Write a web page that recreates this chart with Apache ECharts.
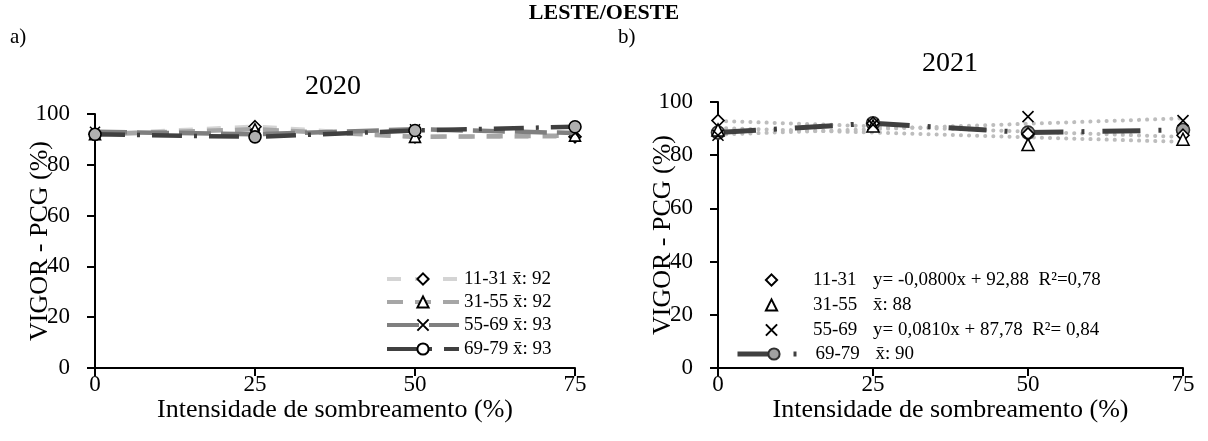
<!DOCTYPE html>
<html>
<head>
<meta charset="utf-8">
<script src="https://cdn.jsdelivr.net/npm/echarts@6/dist/echarts.min.js"></script>
<style>
  html, body { margin: 0; padding: 0; background: #fff; }
  #chart { width: 1208px; height: 441px; }
</style>
</head>
<body>
<div id="chart"></div>
<script>
// Shading intensity levels (%) on the x axis
const shading = [0, 25, 50, 75];
const yTicks = [0, 20, 40, 60, 80, 100];
const groups = ['11-31', '31-55', '55-69', '69-79'];

// Seed vigor (%) per group, 2020
const vigor2020_11_31 = [92, 95, 91, 91];
const vigor2020_31_55 = [92, 94, 91, 91.5];
const vigor2020_55_69 = [93, 92, 94, 92.5];
const vigor2020_69_79 = [92, 91, 93.5, 95];
const means2020 = ['92', '92', '93', '93'];

// Seed vigor (%) per group, 2021
const vigor2021_11_31 = [93, 92, 88, 87.5];
const vigor2021_31_55 = [89.5, 91, 84, 86];
const vigor2021_55_69 = [87.5, 91.5, 94.5, 93];
const vigor2021_69_79 = [88.5, 92, 88.5, 89.5];

// Fitted linear models for 2021: [slope, intercept]
const fit2021_11_31 = [-0.0800, 92.88];
const fit2021_55_69 = [0.0810, 87.78];
const notes2021 = ['y= -0,0800x + 92,88  R\u00b2=0,78', 'x\u0304: 88', 'y= 0,0810x + 87,78  R\u00b2= 0,84', 'x\u0304: 90'];

const FONT = '"Liberation Serif", "Times New Roman", serif';
const XSYM = 'path://M0,0L10,10M10,0L0,10';

const pts = vals => shading.map((x, i) => [x, vals[i]]);
const linePts = (a, b) => shading.map(x => [x, a * x + b]);
function linReg(vals) {
  const n = shading.length;
  const mx = shading.reduce((s, v) => s + v, 0) / n;
  const my = vals.reduce((s, v) => s + v, 0) / n;
  let sxy = 0, sxx = 0;
  shading.forEach((x, i) => { sxy += (x - mx) * (vals[i] - my); sxx += (x - mx) * (x - mx); });
  const a = sxy / sxx;
  return [a, my - a * mx];
}

function xAxis(gridIndex) {
  return {
    type: 'value', gridIndex, min: 0, max: 75, interval: 25,
    name: 'Intensidade de sombreamento (%)', nameLocation: 'middle', nameGap: 29, nameMoveOverlap: false,
    nameTextStyle: { fontFamily: FONT, fontSize: 26, color: '#000' },
    axisLine: { show: true, onZero: false, lineStyle: { color: '#000', width: 2 } },
    axisTick: { show: true, length: 8, lineStyle: { color: '#000', width: 2 } },
    axisLabel: { margin: 5, fontFamily: FONT, fontSize: 23, color: '#000' },
    splitLine: { show: false }
  };
}
function yAxis(gridIndex) {
  return {
    type: 'value', gridIndex, min: yTicks[0], max: yTicks[yTicks.length - 1], interval: yTicks[1] - yTicks[0],
    name: 'VIGOR - PCG (%)', nameLocation: 'middle', nameGap: 42, nameMoveOverlap: false,
    nameTextStyle: { fontFamily: FONT, fontSize: 26, color: '#000' },
    axisLine: { show: true, onZero: false, lineStyle: { color: '#000', width: 2 } },
    axisTick: { show: true, length: 8, lineStyle: { color: '#000', width: 2 } },
    axisLabel: { margin: 25, fontFamily: FONT, fontSize: 23, color: '#000' },
    splitLine: { show: false }
  };
}

const markerStyle = fill => ({ color: fill, borderColor: '#000', borderWidth: 1.6 });

// 2020 panel: all four groups joined by dashed lines
const style2020 = [
  { color: '#d4d4d4', dash: [14, 14], symbol: 'diamond', size: 12, fill: '#fff' },
  { color: '#a6a6a6', dash: [16, 12], symbol: 'triangle', size: 11, fill: '#fff' },
  { color: '#7f7f7f', dash: [32, 10], symbol: XSYM, size: 10, fill: 'none' },
  { color: '#404040', dash: [30, 12, 3, 12], symbol: 'circle', size: 12, fill: '#b0b0b0' }
];
const data2020 = [vigor2020_11_31, vigor2020_31_55, vigor2020_55_69, vigor2020_69_79];

const series = [];
data2020.forEach((vals, i) => {
  const s = style2020[i];
  series.push({
    name: '2020 ' + groups[i], type: 'line', xAxisIndex: 0, yAxisIndex: 0,
    data: pts(vals), symbol: s.symbol, symbolSize: s.size, showSymbol: true,
    lineStyle: { color: s.color, width: 4.5, type: s.dash, cap: 'butt' },
    itemStyle: markerStyle(s.fill), z: 3 + i
  });
});

// 2021 panel: trend lines (dotted), then the markers
const fit31_55 = linReg(vigor2021_31_55);
[fit2021_11_31, fit31_55, fit2021_55_69].forEach((f, i) => {
  series.push({
    name: 'trend ' + i, type: 'line', xAxisIndex: 1, yAxisIndex: 1,
    data: linePts(f[0], f[1]), showSymbol: false, symbol: 'none',
    lineStyle: { color: '#bdbdbd', width: 4, type: [0.1, 8], cap: 'round' }, z: 2
  });
});
const markers2021 = [
  { vals: vigor2021_11_31, symbol: 'diamond', size: 12, fill: '#fff' },
  { vals: vigor2021_31_55, symbol: 'triangle', size: 12, fill: '#fff' },
  { vals: vigor2021_55_69, symbol: XSYM, size: 11, fill: 'none' }
];
markers2021.forEach((s, i) => {
  series.push({
    name: '2021 ' + groups[i], type: 'line', xAxisIndex: 1, yAxisIndex: 1,
    data: pts(s.vals), symbol: s.symbol, symbolSize: s.size, showSymbol: true,
    lineStyle: { width: 0, opacity: 0 },
    itemStyle: markerStyle(s.fill), z: 5
  });
});
series.push({
  name: '2021 ' + groups[3], type: 'line', xAxisIndex: 1, yAxisIndex: 1,
  data: pts(vigor2021_69_79), symbol: 'circle', symbolSize: 13,
  lineStyle: { color: '#404040', width: 5, type: [38, 18, 3, 18], cap: 'butt' },
  itemStyle: { color: '#a0a0a0', borderColor: '#303030', borderWidth: 1.6 }, z: 4
});

// One legend block per row so each line sits where it belongs
const legends = [];
const rows2020 = [279, 302, 325, 349];
const rows2021 = [280, 305, 330, 354];
groups.forEach((g, i) => {
  legends.push({
    data: [{ name: '2020 ' + g, itemStyle: i === 3 ? { color: '#fff' } : undefined }],
    left: 385, top: rows2020[i] - 11, orient: 'vertical', selectedMode: false, padding: 0,
    itemWidth: 72, itemHeight: 14, itemGap: 0,
    lineStyle: { width: 4 },
    formatter: () => g + ' x\u0304: ' + means2020[i],
    textStyle: { fontFamily: FONT, fontSize: 19, color: '#000', lineHeight: 22 }
  });
  legends.push({
    data: ['2021 ' + g],
    left: 735, top: rows2021[i] - 11, orient: 'vertical', selectedMode: false, padding: 0,
    itemWidth: 73, itemHeight: 14, itemGap: 0,
    lineStyle: { width: i === 3 ? 5 : 0 },
    formatter: () => '{a|' + g + '}' + notes2021[i],
    textStyle: { fontFamily: FONT, fontSize: 19, color: '#000', lineHeight: 22,
      rich: { a: { fontFamily: FONT, fontSize: 19, width: 60 } } }
  });
});

const option = {
  animation: false,
  backgroundColor: '#fff',
  grid: [
    { left: 95, right: 633, top: 114, bottom: 73, containLabel: false },
    { left: 718, right: 25, top: 102, bottom: 73, containLabel: false }
  ],
  xAxis: [xAxis(0), xAxis(1)],
  yAxis: [yAxis(0), yAxis(1)],
  legend: legends,
  graphic: [
    { type: 'text', left: 'center', top: 2, style: { text: 'LESTE/OESTE', font: 'bold 22px ' + FONT, fill: '#000' } },
    { type: 'text', left: 10, top: 27, style: { text: 'a)', font: '21px ' + FONT, fill: '#000' } },
    { type: 'text', left: 618, top: 27, style: { text: 'b)', font: '21px ' + FONT, fill: '#000' } },
    { type: 'text', x: 333, y: 87, style: { text: '2020', font: '28px ' + FONT, fill: '#000', textAlign: 'center', textVerticalAlign: 'middle' } },
    { type: 'text', x: 950, y: 64, style: { text: '2021', font: '28px ' + FONT, fill: '#000', textAlign: 'center', textVerticalAlign: 'middle' } }
  ],
  series
};

const chart = echarts.init(document.getElementById('chart'), null, { renderer: 'canvas' });
chart.setOption(option);
</script>
</body>
</html>
